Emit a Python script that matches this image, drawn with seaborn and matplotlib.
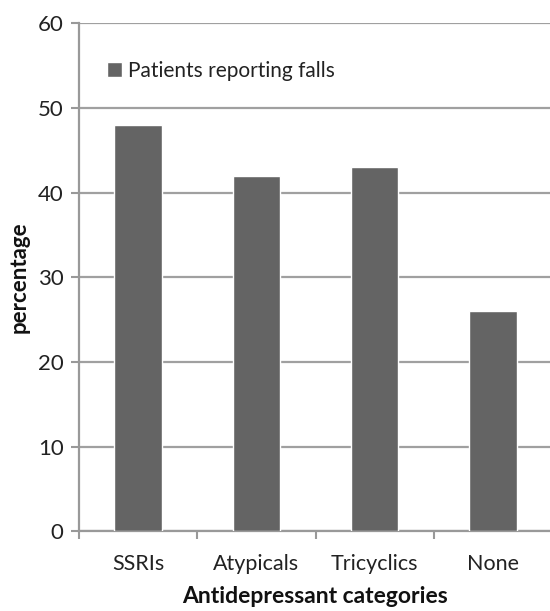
import matplotlib
matplotlib.use("Agg")
import matplotlib.pyplot as plt
import seaborn as sns
import numpy as np

categories = ["SSRIs", "Atypicals", "Tricyclics", "None"]
falls_pct = [48, 42, 43, 26]
series_label = "Patients reporting falls"

sns.set_style("white")
plt.rcParams["font.family"] = ["Lato", "DejaVu Sans"]

fig = plt.figure(figsize=(5.5, 6.11), dpi=100)
ax = fig.add_axes([79 / 550, 1 - 531.4 / 611, 473 / 550, (531.4 - 23.4) / 611])

sns.barplot(x=categories, y=falls_pct, color="#646464", width=0.4,
            saturation=1, label=series_label, ax=ax, zorder=3)

ax.set_ylim(0, 60)
ax.set_xlim(-0.5, 3.5)
ax.set_yticks(range(0, 61, 10))
ax.yaxis.grid(True, color="#a0a0a0", linewidth=1.6, zorder=0)
ax.set_axisbelow(True)

for s in ["top", "right"]:
    ax.spines[s].set_visible(False)
for s in ["left", "bottom"]:
    ax.spines[s].set_color("#999999")
    ax.spines[s].set_linewidth(1.6)

ax.tick_params(axis="y", left=True, length=6, width=1.5, color="#999999",
               labelsize=16, labelcolor="#222222", pad=5)
ax.tick_params(axis="x", which="major", length=0, labelsize=15.5,
               labelcolor="#222222", pad=16)
ax.set_xticks(np.arange(-0.5, 3.6, 1), minor=True)
ax.tick_params(axis="x", which="minor", bottom=True, length=6, width=1.5,
               color="#999999")

ax.set_ylabel("percentage", fontsize=16, fontweight="bold", color="#111111", labelpad=6)
ax.set_xlabel("Antidepressant categories", fontsize=16.5, fontweight="bold",
              color="#111111", labelpad=9)

ax.legend(loc="center left", bbox_to_anchor=(0.059, 0.906), frameon=False,
          borderpad=0, borderaxespad=0,
          fontsize=15, handlelength=0.72, handleheight=0.72, handletextpad=0.3,
          labelcolor="#222222")

fig.savefig("out.png", dpi=100)
